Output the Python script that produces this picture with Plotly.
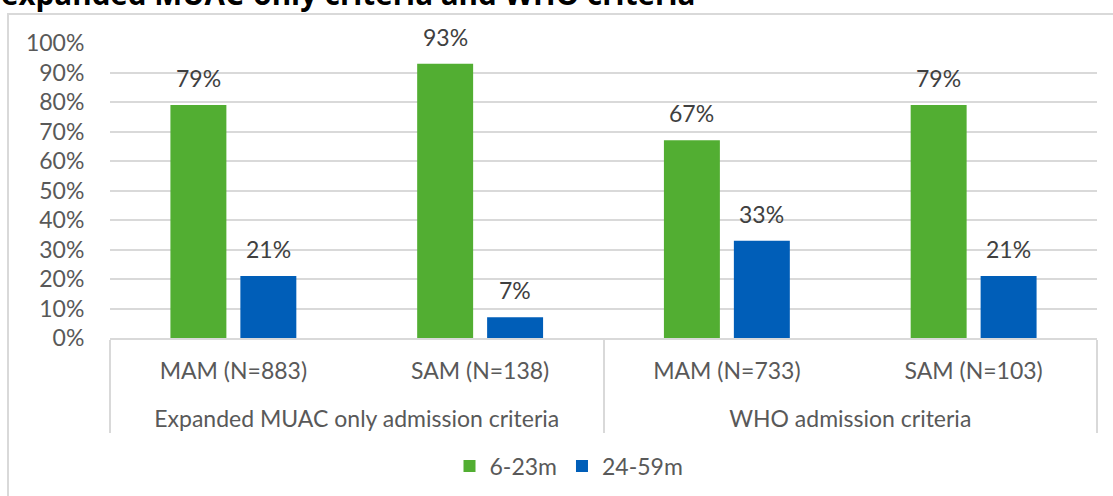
import plotly.graph_objects as go

groups = ["Expanded MUAC only admission criteria", "Expanded MUAC only admission criteria",
          "WHO admission criteria", "WHO admission criteria"]
categories = ["MAM (N=883)", "SAM (N=138)", "MAM (N=733)", "SAM (N=103)"]
series_names = ["6-23m", "24-59m"]
young = [79, 93, 67, 79]
old = [21, 7, 33, 21]
colors = ["#52AE32", "#005EB8"]
title_text = "expanded MUAC-only criteria and WHO criteria"

BARGAP = 0.433
W, H = 1113, 496
ML, MR, MT, MB = 110, 16, 43, 158
PW, PH = W - ML - MR, H - MT - MB

# second label row sits one line lower, as in the original
group_labels = ["<br>" + g for g in groups]

fig = go.Figure()
for name, vals, col in zip(series_names, [young, old], colors):
    fig.add_trace(go.Bar(
        x=[group_labels, categories],
        y=[v / 100 for v in vals],
        name=name,
        marker=dict(color=col, line=dict(width=0)),
        cliponaxis=False,
    ))

# data labels above each bar (slot centres follow from the bar gap)
slot = (1 - BARGAP) / 4
annotations = []
for k, vals in enumerate([young, old]):
    sign = -1 if k == 0 else 1
    for i, v in enumerate(vals):
        annotations.append(dict(
            x=i + sign * slot, y=v / 100, xref="x", yref="y",
            text=f"{v}%", showarrow=False, yanchor="middle", yshift=27,
            font=dict(family="Lato", size=23, color="#404040")))

# title, partly cut off at the top edge as in the original
annotations.append(dict(
    text=f"<b>{title_text}</b>", xref="paper", yref="paper",
    x=-ML / PW, y=1 + (MT - 15) / PH, xanchor="left", yanchor="bottom",
    showarrow=False, borderpad=0,
    font=dict(family="Open Sans", size=29.6, color="#000000")))

fig.update_layout(
    width=W, height=H,
    margin=dict(l=ML, r=MR, t=MT, b=MB, autoexpand=False),
    paper_bgcolor="white", plot_bgcolor="white",
    barmode="group", bargap=BARGAP, bargroupgap=0.2,
    font=dict(family="Lato", size=23, color="#595959"),
    legend=dict(orientation="h", x=569 / W, xanchor="center", xref="container",
                y=1 - 466 / H, yanchor="middle", yref="container",
                font=dict(family="Lato", size=23, color="#595959")),
    showlegend=True,
    annotations=annotations,
    shapes=[dict(type="rect", xref="paper", yref="paper",
                 x0=(8 - ML) / PW, x1=1.05, y0=-1.0, y1=1 + (MT - 14) / PH,
                 line=dict(color="#D9D9D9", width=2), layer="below")],
)
fig.update_yaxes(range=[0, 1], tickformat=".0%", dtick=0.1, automargin=False,
                 showgrid=True, gridcolor="#D9D9D9", gridwidth=1.5,
                 zeroline=False, showline=False,
                 ticks="outside", ticklen=20, tickcolor="rgba(0,0,0,0)",
                 tickfont=dict(family="Lato", size=23, color="#595959"))
fig.update_xaxes(type="multicategory", automargin=False,
                 showline=True, linecolor="#D9D9D9", linewidth=1.5,
                 ticklabelstandoff=12,
                 showdividers=True, dividercolor="#D9D9D9", dividerwidth=1.5,
                 tickfont=dict(family="Lato", size=23, color="#595959"))

fig.write_html("out.html", config={"displayModeBar": False},
               post_script="document.body.style.margin='0px';")
